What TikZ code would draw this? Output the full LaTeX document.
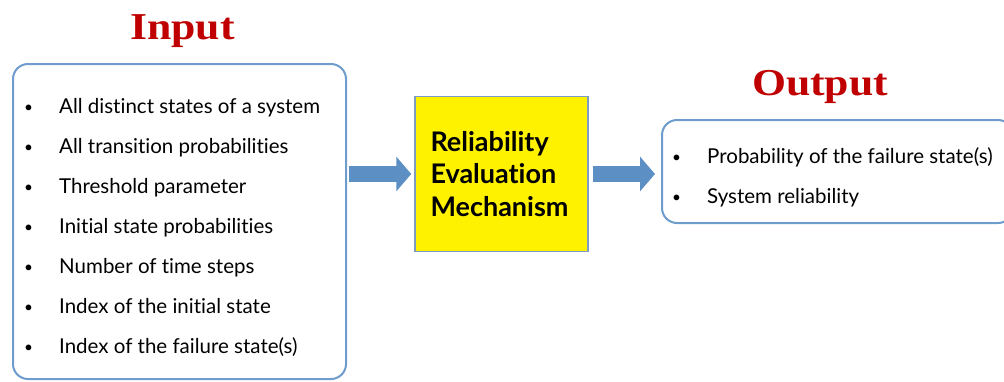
\documentclass[tikz,border=0pt]{standalone}
\usepackage{fontspec}
\setmainfont{Lato}[Ligatures=NoCommon]
\newfontfamily\titlefont{Liberation Serif}
\usetikzlibrary{arrows.meta,positioning}
\definecolor{titlered}{RGB}{192,0,0}
\definecolor{boxblue}{RGB}{110,156,204}
\definecolor{arrowblue}{RGB}{92,143,196}
\definecolor{evalborder}{RGB}{125,155,195}
\newcommand{\bul}{\makebox[35pt][l]{\raisebox{1pt}{\scalebox{0.75}{\textbullet}}}}

\begin{document}
\begin{tikzpicture}[x=1pt,y=-1pt,
        title/.style={anchor=base,inner sep=0pt,text=titlered,xscale=1.15,
            font=\titlefont\bfseries\fontsize{38}{40}\selectfont},
        listbox/.style={draw=boxblue,line width=2pt,rounded corners=15pt,
            anchor=north west,fill=white},
        item/.style={anchor=base west,inner sep=0pt,
            font=\fontsize{20.5}{22}\selectfont},
        evalbox/.style={draw=evalborder,line width=1.5pt,fill=yellow,
            minimum width=173pt,minimum height=155pt,text width=142pt,
            align=left,inner sep=0pt,
            font=\bfseries\fontsize{27}{32.5}\selectfont},
        fatarrow/.style={draw=arrowblue,line width=16pt,
            -{Triangle[length=15pt,width=34pt]}}]

  \useasboundingbox (0,0) rectangle (1004,381);
  \clip (0,0) rectangle (1004,381);

  \node[title] (intitle) at (182.5,39) {Input};
  \node[title] (outtitle) at (820,95) {Output};

  \node[listbox,minimum width=333pt,minimum height=315pt] (inbox) at (12,63) {};
  \node[item] (in1) at (24,113) {\bul All distinct states of a system};
  \node[item] (in2) at (24,153) {\bul All transition probabilities};
  \node[item] (in3) at (24,193) {\bul Threshold parameter};
  \node[item] (in4) at (24,233) {\bul Initial state probabilities};
  \node[item] (in5) at (24,273) {\bul Number of time steps};
  \node[item] (in6) at (24,313) {\bul Index of the initial state};
  \node[item] (in7) at (24,353) {\bul Index of the failure state(s)};

  \node[evalbox] (eval) at (501.5,174) {Reliability\\Evaluation\\Mechanism};

  \node[listbox,minimum width=351pt,minimum height=103pt] (outbox) at (661,119) {};
  \node[item] (out1) at (672,163) {\bul Probability of the failure state(s)};
  \node[item] (out2) at (672,203) {\bul System reliability};

  \draw[fatarrow,shorten <=2pt,shorten >=3pt] (inbox.east |- eval.west) -- (eval.west);
  \draw[fatarrow,shorten <=4pt,shorten >=6pt] (eval.east) -- (outbox.west |- eval.east);

\end{tikzpicture}
\end{document}
